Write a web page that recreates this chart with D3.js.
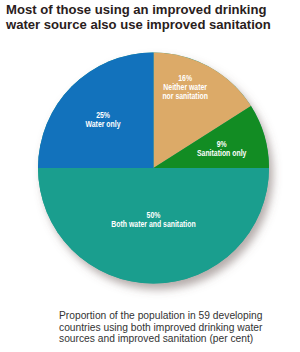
<!DOCTYPE html>
<html><head><meta charset="utf-8">
<script src="https://cdn.jsdelivr.net/npm/d3@7"></script>
<style>
html,body{margin:0;padding:0;background:#fff;}
svg{display:block;}
</style></head>
<body>
<script>
const categories = ["Neither water nor sanitation", "Sanitation only", "Both water and sanitation", "Water only"];
const values = [16, 9, 50, 25];
const labelLines = [["16%", "Neither water", "nor sanitation"], ["9%", "Sanitation only"], ["50%", "Both water and sanitation"], ["25%", "Water only"]];
const colors = ["#dcaa68", "#128c23", "#1a9e8e", "#1272bc"];
const titleLines = ["Most of those using an improved drinking", "water source also use improved sanitation"];
const captionLines = ["Proportion of the population in 59 developing", "countries using both improved drinking water", "sources and improved sanitation (per cent)"];

const W = 300, H = 352;
const svg = d3.select("body").append("svg").attr("width", W).attr("height", H);

const defs = svg.append("defs");
const f = defs.append("filter").attr("id", "sh").attr("x", "-20%").attr("y", "-20%").attr("width", "150%").attr("height", "150%");
f.append("feDropShadow").attr("dx", 4).attr("dy", 6).attr("stdDeviation", 4).attr("flood-color", "#6a5a55").attr("flood-opacity", 0.5);

// Title
svg.append("g").selectAll("text").data(titleLines).join("text")
  .attr("x", 6).attr("y", (d, i) => 14 + i * 15)
  .attr("font-family", "Liberation Sans, Arial, sans-serif")
  .attr("font-weight", "bold").attr("font-size", 13.1)
  .attr("fill", "#2a201c").text(d => d);

const cx = 153.5, cy = 168, R = 115.5;
const pie = d3.pie().sort(null).value(d => d)(values);
const arc = d3.arc().innerRadius(0).outerRadius(R);

const g = svg.append("g").attr("transform", `translate(${cx},${cy})`);
g.append("circle").attr("r", R).attr("fill", "#1a9e8e").attr("filter", "url(#sh)");
g.selectAll("path").data(pie).join("path")
  .attr("d", arc).attr("fill", (d, i) => colors[i]);

// label radii / angle offsets (layout, not data)
const labelR = [87, 71, 51, 70];
const labelAngOff = [-0.13, 0, 0, -0.02];
const lineH = 9;
pie.forEach((d, i) => {
  const a = (d.startAngle + d.endAngle) / 2 + labelAngOff[i];
  const x = Math.sin(a) * labelR[i];
  const y = -Math.cos(a) * labelR[i];
  const lines = labelLines[i];
  const lg = g.append("g").attr("transform", `translate(${x},${y}) scale(0.75,1)`);
  lines.forEach((ln, j) => {
    lg.append("text")
      .attr("text-anchor", "middle")
      .attr("x", 0).attr("y", (j - (lines.length - 1) / 2) * lineH + 3)
      .attr("font-family", "Liberation Sans, Arial, sans-serif")
      .attr("font-weight", "bold").attr("font-size", 9.2)
      .attr("fill", "#fff").text(ln);
  });
});

// caption
svg.append("g").selectAll("text").data(captionLines).join("text")
  .attr("x", 59).attr("y", (d, i) => 319 + i * 11.5)
  .attr("font-family", "Liberation Sans, Arial, sans-serif")
  .attr("font-size", 10.25).attr("fill", "#333").text(d => d);
</script>
</body></html>
